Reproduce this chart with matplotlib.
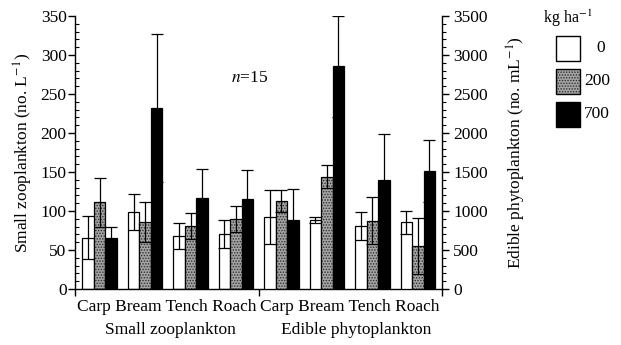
import matplotlib
matplotlib.use('Agg')
import matplotlib.pyplot as plt
import numpy as np
from matplotlib.patches import Rectangle
from matplotlib.ticker import MultipleLocator

plt.rcParams['font.family'] = ['Liberation Serif', 'DejaVu Serif']
plt.rcParams['mathtext.fontset'] = 'stix'
plt.rcParams['hatch.linewidth'] = 0.7

fish = ['Carp', 'Bream', 'Tench', 'Roach']
doses = ['0', '200', '700']

# small zooplankton (no. L-1), one list per dose, order = fish
zoo_mean = {'0': [66, 99, 68, 70], '200': [111, 86, 81, 90], '700': [66, 232, 117, 115]}
zoo_err = {'0': [27, 23, 17, 18], '200': [31, 26, 17, 17], '700': [13, 95, 37, 37]}

# edible phytoplankton (no. mL-1)
phy_mean = {'0': [923, 885, 804, 855], '200': [1128, 1440, 877, 547], '700': [890, 2855, 1394, 1509]}
phy_err = {'0': [340, 38, 180, 150], '200': [135, 150, 305, 360], '700': [390, 645, 590, 400]}

fig = plt.figure(figsize=(6.21, 3.45), dpi=100)
ax = fig.add_axes([75/621, 1-289/345, (442-75)/621, (289-16)/345])
ax2 = ax.twinx()

w = 0.253
offs = {'0': -w, '200': 0.0, '700': w}
x_zoo = np.arange(4)
x_phy = np.arange(4) + 4

GRAY = '#a4a4a4'
HATCH_C = '#2e2e2e'


def draw(a, x, mean, err):
    for d in doses:
        xs = x + offs[d]
        if d == '0':
            a.bar(xs, mean[d], w, color='white', edgecolor='black', lw=0.9, zorder=2)
        elif d == '200':
            a.bar(xs, mean[d], w, color=GRAY, edgecolor=HATCH_C, hatch='......', lw=0, zorder=2)
            a.bar(xs, mean[d], w, fill=False, edgecolor='black', lw=0.9, zorder=2)
        else:
            a.bar(xs, mean[d], w, color='black', edgecolor='black', lw=0.9, zorder=2)
        a.errorbar(xs, mean[d], yerr=err[d], fmt='none', ecolor='black',
                   elinewidth=0.9, capsize=4.5, capthick=0.9, zorder=3)


draw(ax, x_zoo, zoo_mean, zoo_err)
draw(ax2, x_phy, phy_mean, phy_err)

ax.set_xlim(-0.54, 7.53)
ax.set_ylim(0, 350)
ax2.set_ylim(0, 3500)

for a in (ax, ax2):
    a.spines['top'].set_visible(False)
ax.spines['right'].set_visible(False)
ax2.spines['left'].set_visible(False)
ax2.spines['bottom'].set_visible(False)
for s in ('left', 'bottom'):
    ax.spines[s].set_linewidth(1.0)
ax2.spines['right'].set_linewidth(1.0)

ax.yaxis.set_major_locator(MultipleLocator(50))
ax.yaxis.set_minor_locator(MultipleLocator(10))
ax2.yaxis.set_major_locator(MultipleLocator(500))
ax2.yaxis.set_minor_locator(MultipleLocator(100))
ax.tick_params(axis='y', which='major', direction='out', length=5, width=1, labelsize=12.5, pad=1)
ax.tick_params(axis='y', which='minor', direction='in', length=3, width=0.8)
ax2.tick_params(axis='y', which='major', direction='out', length=5, width=1, labelsize=12.5, pad=3)
ax2.tick_params(axis='y', which='minor', direction='out', length=3, width=0.8)

ax.set_xticks([-0.54, 3.5, 7.53])
ax.set_xticklabels([])
ax.tick_params(axis='x', direction='out', length=5, width=1)

ax.set_ylabel('Small zooplankton (no. L$^{-1}$)', fontsize=12.5, labelpad=4)
ax2.set_ylabel('Edible phytoplankton (no. mL$^{-1}$)', fontsize=12.5, labelpad=12)

# category labels under the axis
fig.text(166.5/621, 1-307/345, ' '.join(fish), ha='center', va='center', fontsize=12.5)
fig.text(350/621, 1-307/345, ' '.join(fish), ha='center', va='center', fontsize=12.5)
fig.text(170/621, 1-330/345, 'Small zooplankton', ha='center', va='center', fontsize=12.5)
fig.text(356/621, 1-330/345, 'Edible phytoplankton', ha='center', va='center', fontsize=12.5)

fig.text(250/621, 1-78/345, '$n$=15', ha='center', va='center', fontsize=12.5)

# legend
fig.text(568/621, 1-18/345, 'kg ha$^{-1}$', ha='center', va='center', fontsize=11.5)
leg_style = {'0': dict(facecolor='white', edgecolor='black'),
             '200': dict(facecolor=GRAY, edgecolor=HATCH_C, hatch='......'),
             '700': dict(facecolor='black', edgecolor='black')}
for i, d in enumerate(doses):
    y0 = 36 + i * 33
    r = Rectangle((556/621, 1-(y0+25)/345), 24/621, 25/345, transform=fig.transFigure,
                  lw=0 if d == '200' else 1.0, **leg_style[d])
    fig.add_artist(r)
    if d == '200':
        fig.add_artist(Rectangle((556/621, 1-(y0+25)/345), 24/621, 25/345, transform=fig.transFigure,
                                 fill=False, edgecolor='black', lw=1.0))
    xt = 601 if d == '0' else 597
    fig.text(xt/621, 1-(y0+12)/345, d, ha='center', va='center', fontsize=12.5)

fig.savefig('out.png', dpi=100)
